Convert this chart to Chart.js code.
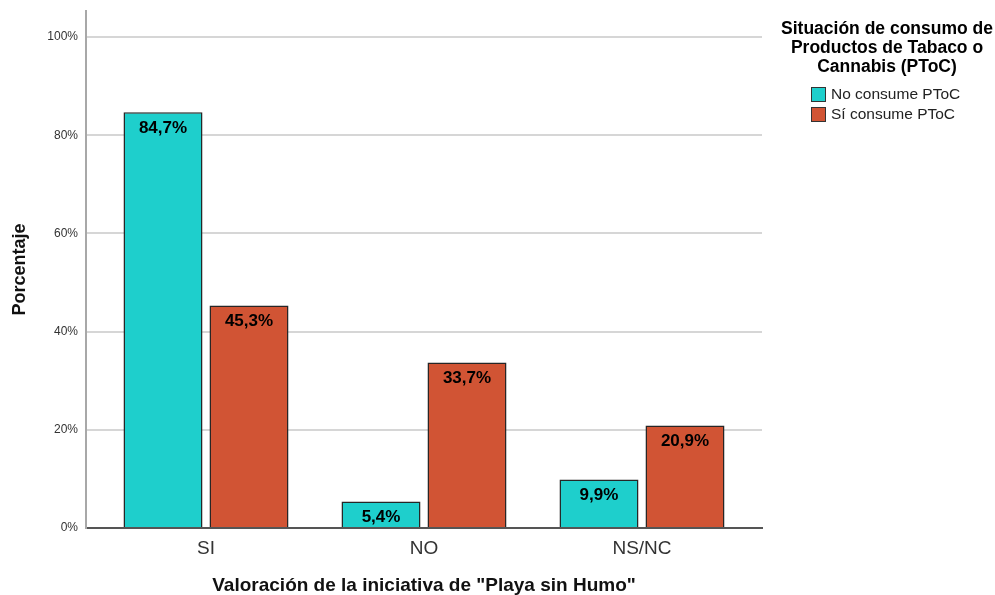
<!DOCTYPE html>
<html>
<head>
<meta charset="utf-8">
<script src="https://cdn.jsdelivr.net/npm/chart.js@4/dist/chart.umd.min.js"></script>
<style>
  html, body { margin: 0; padding: 0; background: #fff; }
  #wrap { width: 995px; height: 595px; }
</style>
</head>
<body>
<div id="wrap"><canvas id="c" width="995" height="595"></canvas></div>
<script>
// Valoración de "Playa sin Humo" según consumo de PToC (porcentajes)
const categories = ['SI', 'NO', 'NS/NC'];
const noConsume = [84.7, 5.4, 9.9];
const siConsume = [45.3, 33.7, 20.9];
const seriesNames = ['No consume PToC', 'Sí consume PToC'];
const yTicks = [0, 20, 40, 60, 80, 100];
const legendTitle = ['Situación de consumo de', 'Productos de Tabaco o', 'Cannabis (PToC)'];

const FONT = '"Liberation Sans", Arial, sans-serif';
const CYAN = '#1ecfcc';
const ORANGE = '#d15434';

const toPoints = arr => arr.map((v, i) => ({ x: i, y: v }));
const fmt = v => v.toFixed(1).replace('.', ',') + '%';

// Value labels inside the top of each bar
const barLabels = {
  id: 'barLabels',
  afterDatasetsDraw(chart) {
    const ctx = chart.ctx;
    ctx.save();
    ctx.font = 'bold 17px ' + FONT;
    ctx.fillStyle = '#000';
    ctx.textAlign = 'center';
    ctx.textBaseline = 'middle';
    chart.data.datasets.forEach((ds, di) => {
      chart.getDatasetMeta(di).data.forEach((bar, i) => {
        ctx.fillText(fmt(ds.data[i].y), bar.x, bar.y + 16);
      });
    });
    ctx.restore();
  }
};

// Legend with a three-line title to the right of the plot
const sideLegend = {
  id: 'sideLegend',
  afterDraw(chart) {
    const ctx = chart.ctx;
    ctx.save();
    ctx.fillStyle = '#000';
    ctx.textAlign = 'center';
    ctx.textBaseline = 'middle';
    ctx.font = 'bold 17.5px ' + FONT;
    legendTitle.forEach((line, i) => ctx.fillText(line, 887, 29 + i * 19));
    ctx.font = '15.5px ' + FONT;
    ctx.textAlign = 'left';
    chart.data.datasets.forEach((ds, i) => {
      const y = 94 + i * 20;
      ctx.fillStyle = ds.backgroundColor;
      ctx.fillRect(811, y - 7, 15, 15);
      ctx.strokeStyle = '#333';
      ctx.lineWidth = 1;
      ctx.strokeRect(811.5, y - 6.5, 14, 14);
      ctx.fillStyle = '#222';
      ctx.fillText(seriesNames[i], 831, y + 1);
    });
    ctx.restore();
  }
};

new Chart(document.getElementById('c'), {
  type: 'bar',
  data: {
    datasets: [
      { label: seriesNames[0], data: toPoints(noConsume), backgroundColor: CYAN, borderColor: '#262626', borderWidth: 1.5 },
      { label: seriesNames[1], data: toPoints(siConsume), backgroundColor: ORANGE, borderColor: '#262626', borderWidth: 1.5 }
    ]
  },
  options: {
    responsive: false,
    animation: false,
    categoryPercentage: 0.789,
    barPercentage: 0.919,
    layout: { padding: { top: 11, right: 233, left: 0, bottom: 0 } },
    plugins: {
      legend: { display: false },
      tooltip: { enabled: false }
    },
    scales: {
      x: {
        type: 'linear',
        offset: false,
        min: -0.5505,
        max: 2.5505,
        afterFit: s => { s.height = 67; },
        afterBuildTicks: s => { s.ticks = categories.map((_, i) => ({ value: i })); },
        grid: { display: false, drawTicks: false, offset: false },
        border: { display: true, color: '#555', width: 2 },
        ticks: {
          padding: 9,
          color: '#333',
          font: { family: FONT, size: 19 },
          callback: v => categories[v] ?? ''
        },
        title: {
          display: true,
          text: 'Valoración de la iniciativa de "Playa sin Humo"',
          color: '#111',
          font: { family: FONT, size: 19, weight: 'bold' },
          padding: { top: 0, bottom: -2 }
        }
      },
      y: {
        min: 0,
        max: 105.3,
        afterFit: s => { s.width = 86; s.paddingTop = 0; s.paddingBottom = 0; },
        afterBuildTicks: s => { s.ticks = yTicks.map(v => ({ value: v })); },
        grid: {
          color: ctx => ctx.tick && ctx.tick.value === 0 ? 'rgba(0,0,0,0)' : '#d6d6d6',
          lineWidth: 2,
          drawTicks: false
        },
        border: { display: true, color: '#a8a8a8', width: 2 },
        ticks: {
          padding: 8,
          color: '#333',
          font: { family: FONT, size: 12 },
          callback: v => v + '%'
        },
        title: {
          display: true,
          text: 'Porcentaje',
          color: '#111',
          font: { family: FONT, size: 18, weight: 'bold' },
          padding: { top: 9, bottom: 0 }
        }
      }
    }
  },
  plugins: [barLabels, sideLegend]
});
</script>
</body>
</html>
